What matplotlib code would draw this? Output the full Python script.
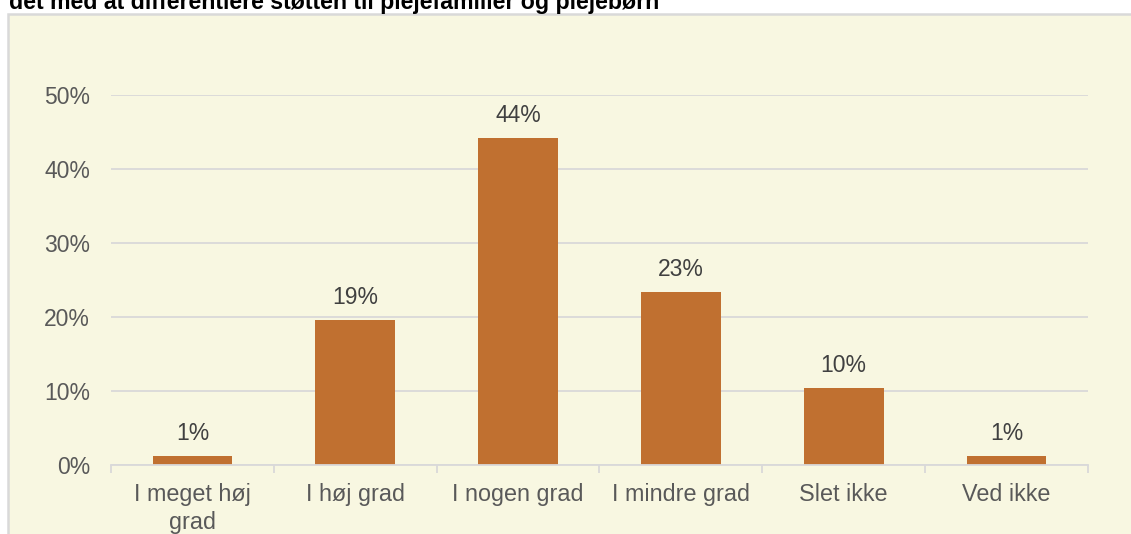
import matplotlib
matplotlib.use("Agg")
import matplotlib.pyplot as plt
from matplotlib.patches import Rectangle

categories = ["I meget høj\ngrad", "I høj grad", "I nogen grad", "I mindre grad", "Slet ikke", "Ved ikke"]
values = [1.2, 19.6, 44.2, 23.4, 10.4, 1.2]
value_labels = ["1%", "19%", "44%", "23%", "10%", "1%"]
yticks = [0, 10, 20, 30, 40, 50]
ytick_labels = ["0%", "10%", "20%", "30%", "40%", "50%"]
title = "det med at differentiere støtten til plejefamilier og plejebørn"

plt.rcParams['font.family'] = ['Liberation Sans', 'DejaVu Sans']

W, H = 1131, 534
fig = plt.figure(figsize=(W / 100, H / 100), dpi=100)
fig.patch.set_facecolor("white")

# cream chart area box
fig.patches.append(Rectangle((8 / W, -0.1), 1.2, (1 - 14 / H) + 0.1, transform=fig.transFigure,
                             facecolor="#F8F7E1", edgecolor="#D9D9D9", linewidth=1.8, zorder=-5))

fig.text(9 / W, 1 - 9 / H, title, fontsize=16.7, fontweight="bold", color="black",
         ha="left", va="baseline")

ax = fig.add_axes([111 / W, 1 - 465 / H, (1088 - 111) / W, (465 - 95) / H])
ax.set_zorder(2)
ax.set_facecolor("none")
x = list(range(len(categories)))
bars = ax.bar(x, values, width=0.49, color="#C07030", zorder=3)
ax.set_xlim(-0.5, len(categories) - 0.5)
ax.set_ylim(0, 50)
ax.set_yticks(yticks)
ax.set_yticklabels(ytick_labels)
ax.yaxis.grid(True, color="#D9D9D9", linewidth=1.3, zorder=0)
ax.set_axisbelow(True)
for s in ["top", "right", "left"]:
    ax.spines[s].set_visible(False)
ax.spines["bottom"].set_color("#D9D9D9")
ax.spines["bottom"].set_linewidth(1.3)
ax.spines["bottom"].set_zorder(4)
ax.tick_params(axis="y", length=0, labelsize=16.5, labelcolor="#595959", pad=15)
ax.set_xticks([i - 0.5 for i in range(len(categories) + 1)])
ax.set_xticklabels([])
ax.tick_params(axis="x", which="major", length=6, width=1.3, color="#D9D9D9")
ax.set_xticks(x, minor=True)
ax.set_xticklabels(categories, minor=True)
ax.tick_params(axis="x", which="minor", length=0, labelsize=16.8, labelcolor="#595959", pad=13)
for lab in ax.get_xticklabels(minor=True):
    lab.set_linespacing(1.25)

for xi, v, lbl in zip(x, values, value_labels):
    ax.annotate(lbl, (xi, v), xytext=(0, 8), textcoords="offset points",
                ha="center", va="bottom", fontsize=16.5, color="#404040")

fig.savefig("out.png", dpi=100, facecolor=fig.get_facecolor())
